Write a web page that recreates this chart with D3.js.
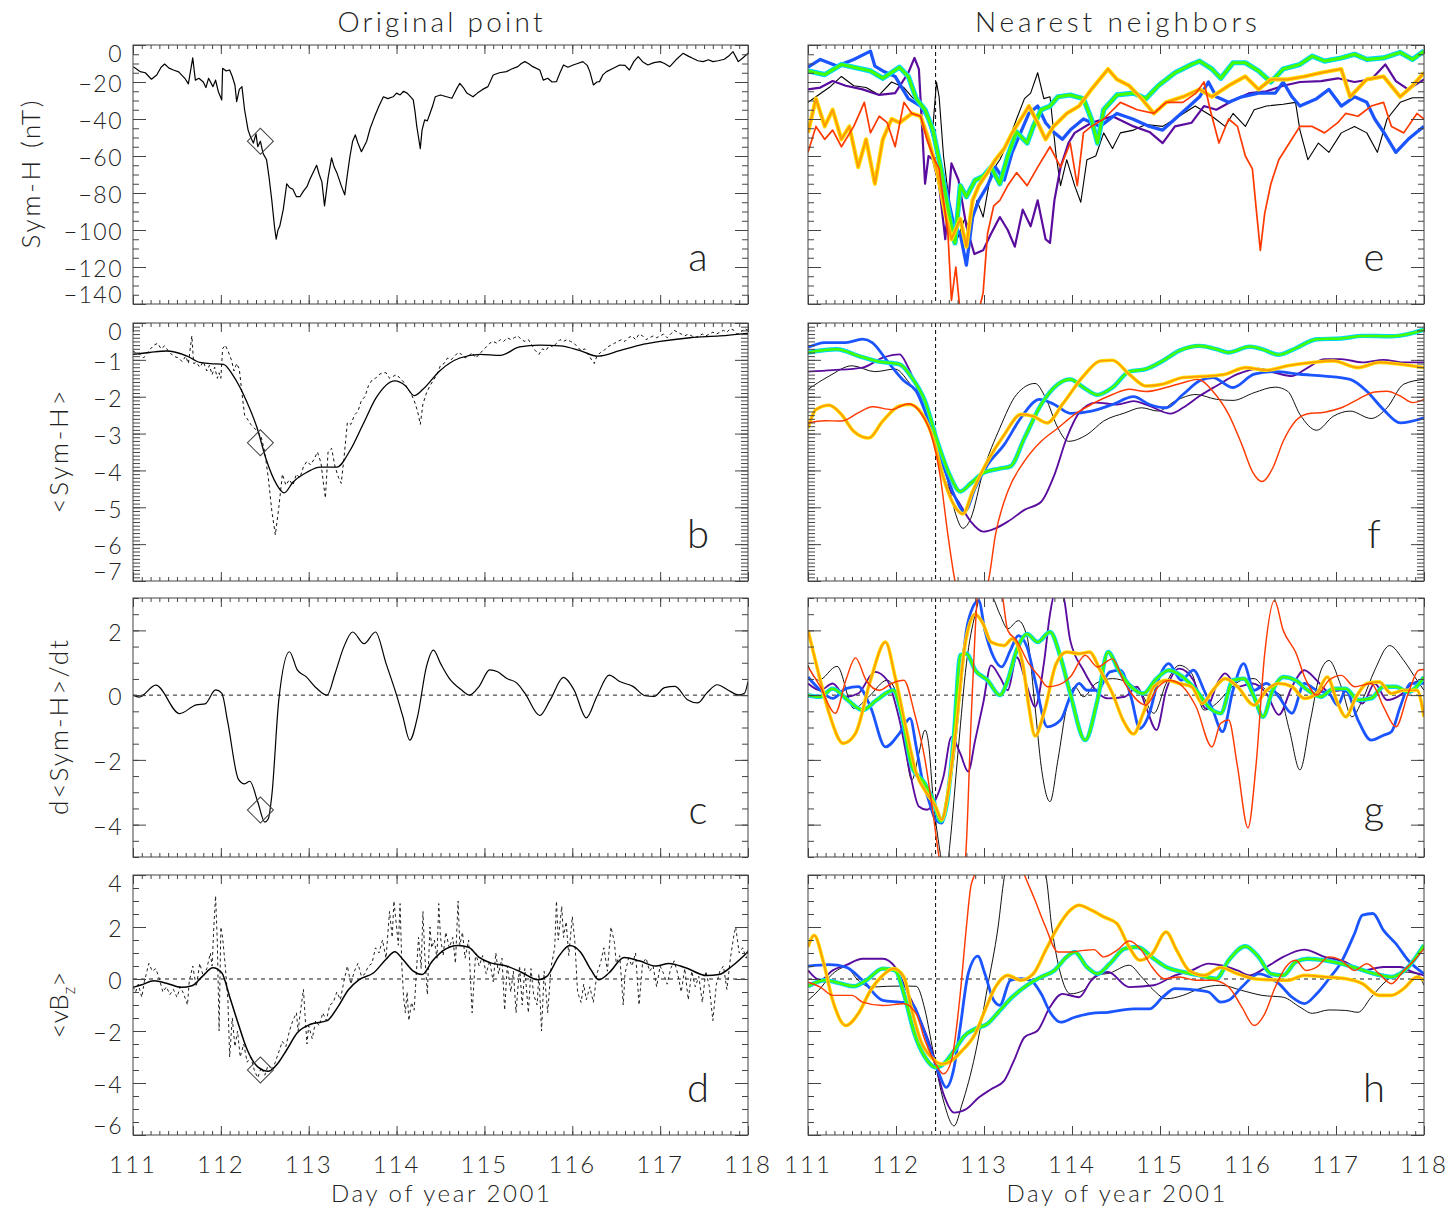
<!DOCTYPE html>
<html>
<head>
<meta charset="utf-8">
<script src="https://cdn.jsdelivr.net/npm/d3@7"></script>
<style>
  body { margin: 0; background: #fff; }
  svg text { font-family: Lato, "DejaVu Sans", sans-serif; font-weight: 300; fill: #222; }
</style>
</head>
<body>
<script>
// page size and panel boxes (IDL style 2x4 grid)
const svgWidth = 1453;
const svgHeight = 1212;
const cols = [{ x0: 133, x1: 748 }, { x0: 808, x1: 1424 }];
const rows = [{ y0: 45, y1: 304 }, { y0: 323, y1: 581 }, { y0: 598, y1: 857 }, { y0: 875, y1: 1135 }];

// tick labels
const dayTicks = [111, 112, 113, 114, 115, 116, 117, 118];
const symhTicks = [0, -20, -40, -60, -80, -100, -120, -140];
const meanSymhTicks = [0, -1, -2, -3, -4, -5, -6, -7];
const dSymhTicks = [2, 0, -2, -4];
const vbzTicks = [4, 2, 0, -2, -4, -6];

// the original point (day of year), marked with a diamond / dashed line
const pointDay = 112.45;
const pointValues = [-52, -3.25, -3.55, -3.5];

// ---------- left column: original point ----------
const symhOrig = [[111.00,-11.7],[111.04,-13],[111.08,-14.4],[111.14,-15],[111.21,-18.5],[111.27,-16.2],[111.32,-12],[111.36,-10.3],[111.41,-12.5],[111.46,-13.5],[111.52,-14.5],[111.59,-18],[111.63,-21],[111.68,-7],[111.71,-19],[111.75,-18],[111.80,-20],[111.83,-23],[111.86,-18],[111.91,-22.5],[111.94,-19],[111.97,-25],[112.01,-29.7],[112.02,-12.6],[112.06,-14],[112.10,-13.5],[112.13,-17],[112.16,-21.6],[112.18,-30.6],[112.21,-24],[112.24,-22.5],[112.27,-35],[112.31,-46],[112.34,-50],[112.37,-53],[112.40,-48],[112.42,-55],[112.45,-52],[112.48,-58.6],[112.52,-62],[112.55,-72],[112.58,-84],[112.61,-98],[112.63,-105],[112.65,-100],[112.67,-98],[112.71,-89],[112.75,-75],[112.78,-77],[112.82,-78],[112.86,-82],[112.90,-82],[112.94,-79],[112.98,-76.6],[113.01,-73],[113.03,-71],[113.06,-68],[113.09,-65],[113.12,-70],[113.15,-74],[113.18,-87],[113.22,-72],[113.26,-61],[113.29,-66],[113.32,-69],[113.37,-76],[113.41,-81],[113.44,-70],[113.47,-60],[113.50,-52],[113.53,-48.6],[113.56,-53],[113.60,-57.7],[113.66,-52],[113.70,-45],[113.75,-38.7],[113.80,-33],[113.85,-28],[113.90,-29],[113.96,-28],[114.00,-26],[114.04,-27],[114.08,-25],[114.12,-26],[114.16,-28],[114.19,-29.7],[114.21,-36],[114.23,-44],[114.25,-50],[114.27,-56],[114.29,-46],[114.32,-40.5],[114.35,-41],[114.38,-37],[114.41,-33],[114.44,-28],[114.50,-27],[114.57,-28],[114.63,-28.8],[114.68,-24],[114.72,-20.7],[114.76,-23],[114.80,-26],[114.87,-28],[114.92,-26],[114.98,-24],[115.04,-22.5],[115.10,-16.2],[115.17,-15],[115.25,-14.4],[115.31,-13],[115.38,-11.7],[115.42,-10],[115.46,-9],[115.50,-10],[115.55,-11.7],[115.63,-13.5],[115.67,-19],[115.72,-18],[115.77,-20],[115.82,-19.8],[115.86,-15],[115.90,-10.8],[115.95,-12],[116.01,-10.8],[116.06,-10],[116.12,-9],[116.17,-11],[116.20,-14.4],[116.24,-21.6],[116.28,-20],[116.31,-19.8],[116.35,-16],[116.39,-14.4],[116.45,-13],[116.54,-10.8],[116.60,-11],[116.65,-13.5],[116.70,-9],[116.75,-6.3],[116.80,-9],[116.86,-10.8],[116.93,-9.5],[117.00,-9],[117.05,-10],[117.11,-11.7],[117.18,-8],[117.26,-4.5],[117.32,-6],[117.37,-7.2],[117.43,-8.5],[117.49,-9],[117.55,-8],[117.60,-9],[117.66,-8.5],[117.73,-7.7],[117.78,-6],[117.83,-3.6],[117.89,-9],[117.94,-7],[118.00,-4.5]];

const meanSymhSmooth = [[111.00,-0.85],[111.19,-0.80],[111.38,-0.76],[111.61,-0.89],[111.76,-1.07],[111.88,-1.10],[112.03,-1.12],[112.14,-1.43],[112.29,-2.11],[112.41,-2.83],[112.52,-3.73],[112.63,-4.36],[112.72,-4.61],[112.82,-4.32],[112.98,-4.05],[113.13,-3.91],[113.32,-3.91],[113.47,-3.46],[113.62,-2.74],[113.77,-2.02],[113.98,-1.57],[114.10,-1.70],[114.20,-1.97],[114.30,-1.80],[114.49,-1.30],[114.72,-0.95],[114.95,-0.85],[115.18,-0.88],[115.40,-0.65],[115.63,-0.60],[115.86,-0.62],[116.09,-0.75],[116.29,-0.90],[116.54,-0.75],[116.77,-0.60],[117.00,-0.50],[117.34,-0.40],[117.68,-0.35],[118.00,-0.28]];

const meanSymhRaw = [[111.00,-0.76],[111.04,-0.82],[111.08,-0.85],[111.12,-0.95],[111.16,-0.82],[111.20,-0.70],[111.24,-0.60],[111.28,-0.55],[111.32,-0.70],[111.36,-0.62],[111.40,-0.75],[111.46,-0.90],[111.52,-0.95],[111.56,-1.05],[111.60,-0.90],[111.63,-1.10],[111.67,-0.35],[111.69,-1.10],[111.72,-1.07],[111.76,-1.20],[111.80,-1.05],[111.84,-1.30],[111.87,-1.15],[111.90,-1.40],[111.93,-1.20],[111.96,-1.50],[111.98,-1.35],[112.00,-1.50],[112.02,-0.70],[112.05,-0.60],[112.08,-0.75],[112.12,-1.00],[112.15,-1.30],[112.18,-1.10],[112.21,-1.25],[112.24,-1.90],[112.27,-2.50],[112.30,-2.60],[112.34,-2.75],[112.38,-2.85],[112.42,-2.95],[112.46,-3.10],[112.50,-3.50],[112.54,-4.20],[112.58,-5.10],[112.62,-5.75],[112.66,-5.00],[112.70,-4.10],[112.74,-4.40],[112.78,-4.25],[112.82,-4.40],[112.86,-4.10],[112.90,-4.20],[112.94,-3.90],[112.98,-3.75],[113.02,-3.85],[113.06,-3.70],[113.10,-3.50],[113.14,-3.80],[113.17,-4.40],[113.19,-4.75],[113.22,-3.50],[113.26,-3.40],[113.30,-3.90],[113.34,-4.20],[113.37,-4.35],[113.40,-3.70],[113.44,-2.70],[113.48,-2.75],[113.52,-2.50],[113.56,-2.40],[113.60,-2.10],[113.64,-2.00],[113.68,-1.70],[113.72,-1.55],[113.76,-1.50],[113.80,-1.40],[113.84,-1.35],[113.88,-1.35],[113.92,-1.50],[113.96,-1.45],[114.00,-1.40],[114.04,-1.50],[114.08,-1.60],[114.12,-1.75],[114.16,-1.90],[114.20,-2.10],[114.24,-2.40],[114.27,-2.75],[114.30,-2.20],[114.34,-1.90],[114.38,-1.70],[114.42,-1.55],[114.46,-1.40],[114.50,-1.15],[114.54,-1.10],[114.58,-0.95],[114.62,-1.00],[114.66,-0.90],[114.70,-0.80],[114.74,-0.85],[114.78,-0.95],[114.82,-0.90],[114.86,-0.80],[114.90,-0.95],[114.94,-0.85],[114.98,-0.75],[115.02,-0.65],[115.06,-0.55],[115.10,-0.50],[115.14,-0.55],[115.18,-0.45],[115.22,-0.50],[115.26,-0.40],[115.30,-0.45],[115.34,-0.40],[115.38,-0.35],[115.42,-0.45],[115.46,-0.50],[115.50,-0.45],[115.54,-0.60],[115.58,-0.75],[115.62,-0.85],[115.66,-0.70],[115.70,-0.75],[115.74,-0.60],[115.78,-0.65],[115.82,-0.55],[115.86,-0.45],[115.90,-0.50],[115.94,-0.45],[115.98,-0.50],[116.02,-0.55],[116.06,-0.65],[116.10,-0.75],[116.14,-0.70],[116.18,-0.85],[116.22,-1.00],[116.25,-1.10],[116.28,-0.90],[116.32,-0.80],[116.36,-0.75],[116.40,-0.65],[116.44,-0.60],[116.48,-0.55],[116.52,-0.50],[116.56,-0.45],[116.60,-0.50],[116.64,-0.40],[116.68,-0.35],[116.72,-0.45],[116.76,-0.30],[116.80,-0.35],[116.84,-0.45],[116.88,-0.40],[116.92,-0.35],[116.96,-0.40],[117.00,-0.35],[117.04,-0.30],[117.08,-0.40],[117.12,-0.30],[117.16,-0.20],[117.20,-0.25],[117.24,-0.30],[117.28,-0.35],[117.32,-0.30],[117.36,-0.35],[117.40,-0.40],[117.44,-0.35],[117.48,-0.30],[117.52,-0.35],[117.56,-0.30],[117.60,-0.25],[117.64,-0.30],[117.68,-0.25],[117.72,-0.20],[117.76,-0.25],[117.80,-0.15],[117.84,-0.20],[117.88,-0.30],[117.92,-0.25],[117.96,-0.15],[118.00,-0.20]];

const dSymhOrig = [[111.00,0.00],[111.07,-0.06],[111.26,0.31],[111.53,-0.57],[111.72,-0.30],[111.82,-0.27],[111.94,0.16],[112.01,0.06],[112.08,-0.86],[112.20,-2.60],[112.27,-2.74],[112.33,-2.66],[112.42,-3.30],[112.50,-3.92],[112.54,-3.82],[112.58,-3.10],[112.66,-0.14],[112.78,1.34],[112.87,0.78],[112.97,0.57],[113.09,0.21],[113.21,0.00],[113.30,0.67],[113.40,1.49],[113.50,1.95],[113.63,1.59],[113.76,1.95],[113.88,0.98],[114.00,0.00],[114.07,-0.65],[114.15,-1.39],[114.24,-0.65],[114.34,0.88],[114.42,1.39],[114.50,0.98],[114.60,0.52],[114.74,0.16],[114.83,0.00],[114.94,0.27],[115.06,0.78],[115.15,0.72],[115.25,0.52],[115.37,0.37],[115.46,0.06],[115.63,-0.63],[115.75,-0.14],[115.90,0.55],[116.02,0.16],[116.16,-0.70],[116.28,-0.04],[116.42,0.62],[116.54,0.42],[116.69,0.27],[116.83,-0.02],[116.93,-0.04],[117.05,0.23],[117.17,0.27],[117.31,-0.14],[117.43,-0.24],[117.53,0.06],[117.65,0.32],[117.77,0.16],[117.89,0.01],[117.96,0.06],[118.00,0.42]];

const vbzSmooth = [[111.00,-0.32],[111.10,-0.22],[111.24,-0.07],[111.38,-0.16],[111.55,-0.32],[111.67,-0.26],[111.79,0.10],[111.91,0.43],[112.01,0.24],[112.10,-0.68],[112.20,-1.74],[112.30,-2.72],[112.42,-3.38],[112.54,-3.55],[112.63,-3.32],[112.75,-2.72],[112.87,-2.07],[113.02,-1.74],[113.21,-1.60],[113.33,-1.08],[113.45,-0.42],[113.57,-0.03],[113.74,0.24],[113.88,0.76],[113.98,1.05],[114.07,0.76],[114.19,0.30],[114.29,0.17],[114.41,0.70],[114.53,1.09],[114.70,1.29],[114.82,1.22],[114.94,0.83],[115.06,0.63],[115.25,0.50],[115.42,0.26],[115.61,-0.03],[115.71,0.10],[115.85,0.89],[115.97,1.29],[116.09,1.05],[116.21,0.37],[116.30,-0.03],[116.42,0.24],[116.59,0.83],[116.76,0.70],[116.95,0.50],[117.10,0.60],[117.29,0.43],[117.53,0.13],[117.67,0.17],[117.82,0.50],[118.00,1.05]];

const vbzRaw = [[111.00,-0.3],[111.03,-0.5],[111.06,-0.2],[111.10,-0.7],[111.13,-0.1],[111.18,0.6],[111.22,0.3],[111.26,0.4],[111.30,0],[111.34,-0.5],[111.38,-0.3],[111.42,-0.6],[111.46,-0.4],[111.50,-0.7],[111.54,-0.3],[111.58,-0.6],[111.62,-1.0],[111.64,-0.1],[111.68,0.5],[111.72,-0.3],[111.76,0.6],[111.80,0.1],[111.84,0.4],[111.88,1.0],[111.90,0.5],[111.92,2.0],[111.94,3.2],[111.96,1.4],[111.98,-2.0],[112.00,2.0],[112.02,1.6],[112.05,0.5],[112.08,-0.8],[112.10,-3.0],[112.13,-1.5],[112.16,-2.6],[112.19,-2.0],[112.22,-3.0],[112.26,-2.5],[112.30,-3.2],[112.34,-3.0],[112.38,-3.5],[112.42,-3.8],[112.46,-3.4],[112.50,-3.7],[112.54,-3.3],[112.58,-3.5],[112.62,-3.2],[112.66,-2.8],[112.70,-2.4],[112.74,-2.6],[112.78,-2.0],[112.82,-1.6],[112.86,-1.3],[112.88,-2.0],[112.90,-1.4],[112.94,-0.4],[112.96,-1.5],[112.98,-2.5],[113.00,-1.8],[113.04,-2.3],[113.08,-1.6],[113.12,-1.8],[113.16,-1.3],[113.20,-1.6],[113.24,-1.0],[113.28,-0.9],[113.32,-0.5],[113.36,-0.8],[113.40,-0.1],[113.44,0.5],[113.48,-0.2],[113.52,0.3],[113.56,0.6],[113.60,0.1],[113.64,0.2],[113.68,0.5],[113.72,0.6],[113.76,1.2],[113.80,1.0],[113.84,1.5],[113.88,0.8],[113.92,2.6],[113.95,1.6],[113.97,3.0],[114.00,2.0],[114.02,1.3],[114.04,2.9],[114.06,0.5],[114.08,-0.7],[114.10,-1.3],[114.12,-0.5],[114.14,-1.6],[114.17,-0.9],[114.20,-1.2],[114.23,0.5],[114.25,1.6],[114.28,0.4],[114.30,2.6],[114.32,1.0],[114.35,-0.6],[114.38,2.0],[114.40,1.2],[114.43,1.5],[114.46,0.8],[114.48,2.9],[114.50,1.6],[114.53,0.9],[114.56,1.8],[114.60,1.2],[114.64,1.6],[114.67,0.6],[114.70,3.0],[114.72,1.3],[114.75,1.8],[114.78,0.8],[114.82,1.5],[114.86,-1.3],[114.90,1.0],[114.94,0.5],[114.98,0.9],[115.02,0.2],[115.06,0.7],[115.10,-0.1],[115.13,1.0],[115.16,0.2],[115.20,0.8],[115.23,-1.2],[115.26,0.5],[115.30,-0.5],[115.33,0.3],[115.36,-1.3],[115.40,0.5],[115.43,-1.0],[115.46,0.4],[115.50,-1.3],[115.53,0.4],[115.56,-0.6],[115.60,-1.0],[115.62,0.2],[115.65,-2.0],[115.68,0.3],[115.72,-1.3],[115.76,0.5],[115.80,1.2],[115.82,3.0],[115.84,1.5],[115.88,2.8],[115.90,1.6],[115.93,2.2],[115.96,0.9],[116.00,2.4],[116.03,1.4],[116.06,-0.5],[116.10,-0.9],[116.13,-0.2],[116.16,-0.8],[116.20,-0.3],[116.24,-0.9],[116.28,0.2],[116.32,0.6],[116.36,1.2],[116.40,0.3],[116.44,2.0],[116.48,1.4],[116.50,0.6],[116.54,0.9],[116.58,-1.0],[116.60,0.2],[116.64,0.8],[116.68,0.5],[116.72,1.0],[116.76,-1.0],[116.80,0.6],[116.84,0.8],[116.88,0.3],[116.92,0.5],[116.96,-0.3],[117.00,0.5],[117.04,0.2],[117.08,-0.2],[117.12,0.4],[117.16,0.7],[117.20,0.2],[117.24,-0.5],[117.28,0.4],[117.32,-0.8],[117.36,0.3],[117.40,-0.3],[117.44,0.1],[117.48,-0.9],[117.52,0.3],[117.56,-0.3],[117.60,-1.6],[117.64,-0.2],[117.68,0.3],[117.72,0.5],[117.76,-0.4],[117.80,0.8],[117.84,1.7],[117.86,2.0],[117.90,1.0],[117.94,1.2],[117.98,0.8],[118.00,1.2]];

// ---------- right column: nearest neighbours ----------
// panel e: Sym-H
const symhBlack = [[111.00,-31],[111.09,-28],[111.24,-23],[111.38,-17],[111.52,-22],[111.66,-23],[111.81,-27],[111.95,-20],[112.09,-23],[112.18,-28],[112.33,-35],[112.42,-44],[112.46,-20],[112.49,-28],[112.54,-60],[112.61,-87],[112.68,-107],[112.78,-94],[112.85,-100],[112.92,-84],[112.99,-93],[113.08,-69],[113.18,-62],[113.27,-53],[113.37,-40],[113.46,-29],[113.53,-26],[113.61,-15],[113.68,-29],[113.75,-28],[113.82,-60],[113.87,-76],[113.94,-62],[114.03,-76],[114.10,-85],[114.17,-62],[114.27,-60],[114.36,-47.5],[114.46,-56],[114.55,-47.5],[114.70,-46],[114.84,-43],[115.03,-44],[115.17,-40],[115.40,-33],[115.59,-38.5],[115.74,-44],[115.83,-37],[115.97,-44],[116.07,-35],[116.21,-33],[116.40,-32],[116.54,-31],[116.59,-46],[116.68,-62],[116.80,-53],[116.92,-58],[117.06,-47.5],[117.21,-44],[117.35,-47.5],[117.47,-58],[117.58,-40],[117.73,-31],[117.87,-28.5],[118.00,-28.5]];
const symhPurple = [[111.00,-24],[111.14,-23],[111.28,-19.5],[111.43,-22],[111.62,-24],[111.81,-27],[111.99,-26],[112.14,-15],[112.21,-7],[112.26,-13],[112.30,-47.5],[112.33,-75],[112.37,-60],[112.42,-62],[112.49,-76],[112.56,-105],[112.63,-64],[112.71,-73],[112.80,-98],[112.89,-113],[112.99,-111],[113.08,-102],[113.18,-93],[113.27,-100],[113.35,-109],[113.44,-89],[113.53,-98],[113.61,-84],[113.70,-105],[113.75,-107],[113.80,-84],[113.87,-66],[113.96,-53],[114.03,-47.5],[114.22,-42],[114.46,-38.5],[114.70,-44],[114.88,-47],[115.03,-53],[115.17,-44],[115.36,-42],[115.50,-33],[115.64,-35],[115.83,-30],[116.02,-26],[116.21,-25],[116.40,-22],[116.59,-20],[116.83,-19.5],[117.02,-18],[117.21,-20],[117.40,-18.6],[117.56,-10.5],[117.68,-19.5],[117.82,-24],[118.00,-18.6]];
const symhBlue = [[111.00,-12],[111.14,-7.8],[111.33,-11.4],[111.52,-7.8],[111.71,-3.3],[111.76,-11.4],[111.85,-14],[111.99,-17],[112.14,-29],[112.28,-33],[112.37,-40],[112.47,-57],[112.56,-76],[112.66,-98],[112.73,-102],[112.80,-119],[112.87,-93],[112.94,-84],[113.04,-76],[113.13,-66],[113.23,-73],[113.32,-58],[113.42,-47],[113.51,-37],[113.61,-33],[113.70,-42],[113.79,-47],[113.89,-51],[113.98,-46],[114.13,-40],[114.32,-44],[114.51,-37],[114.69,-40],[114.88,-44],[115.03,-46],[115.17,-40],[115.31,-34],[115.45,-28],[115.55,-20],[115.64,-28],[115.78,-31],[115.93,-28],[116.12,-26],[116.31,-26],[116.40,-20],[116.50,-28],[116.59,-33],[116.78,-29],[116.92,-24],[117.06,-33],[117.21,-28],[117.35,-31],[117.44,-40],[117.54,-47],[117.68,-58],[117.82,-51],[117.92,-47],[118.00,-44]];
const symhGreen = [[111.00,-14],[111.19,-16],[111.38,-10.5],[111.52,-12],[111.71,-14],[111.85,-18],[112.04,-12],[112.14,-17],[112.23,-29],[112.33,-35],[112.42,-46],[112.52,-69],[112.61,-93],[112.67,-107],[112.73,-76],[112.80,-82],[112.90,-73],[112.99,-71],[113.08,-66],[113.18,-75],[113.27,-60],[113.37,-47],[113.49,-53],[113.56,-44],[113.65,-35],[113.75,-33],[113.84,-28],[113.98,-27],[114.13,-29],[114.22,-40],[114.29,-53],[114.36,-35],[114.51,-27],[114.70,-26],[114.84,-29],[114.98,-22],[115.17,-15],[115.36,-10.5],[115.45,-8.7],[115.59,-13],[115.69,-18],[115.83,-9.6],[115.97,-9.6],[116.12,-14],[116.26,-20],[116.40,-13],[116.59,-10.5],[116.73,-6],[116.87,-8.7],[117.06,-7],[117.21,-5],[117.35,-7.8],[117.54,-7],[117.73,-4],[117.87,-7.8],[118.00,-3.3]];
const symhOrange = [[111.00,-47.5],[111.09,-29],[111.19,-44],[111.28,-35],[111.38,-51],[111.47,-44],[111.57,-66],[111.66,-51],[111.76,-75],[111.85,-51],[111.95,-40],[112.04,-42],[112.18,-37],[112.28,-38.5],[112.37,-51],[112.47,-69],[112.56,-91],[112.63,-105],[112.73,-94],[112.80,-109],[112.87,-84],[112.94,-76],[113.04,-69],[113.13,-62],[113.23,-56],[113.32,-47.5],[113.42,-40],[113.51,-33],[113.61,-42],[113.70,-51],[113.79,-44],[113.94,-37],[114.08,-33],[114.22,-24],[114.41,-13],[114.51,-18.6],[114.65,-22],[114.79,-29],[114.93,-37],[115.07,-31],[115.26,-28],[115.45,-24],[115.59,-28],[115.78,-22],[115.97,-17],[116.12,-24],[116.26,-18.6],[116.45,-18.6],[116.64,-17],[116.83,-15],[117.06,-13],[117.16,-28],[117.35,-18.6],[117.54,-17],[117.73,-28],[117.87,-22],[118.00,-15]];
const symhRed = [[111.00,-58],[111.09,-44],[111.19,-51],[111.28,-46],[111.38,-55],[111.52,-44],[111.64,-31],[111.71,-47.5],[111.81,-38.5],[111.90,-42],[111.99,-55],[112.09,-31],[112.18,-37],[112.28,-38.5],[112.35,-51],[112.42,-60],[112.49,-67],[112.54,-84],[112.59,-102],[112.63,-138],[112.68,-120],[112.73,-145],[112.80,-150],[112.92,-148],[112.99,-134],[113.04,-102],[113.11,-87],[113.18,-84],[113.27,-76],[113.37,-69],[113.49,-76],[113.61,-66],[113.75,-55],[113.87,-66],[113.98,-53],[114.06,-76],[114.13,-47.5],[114.22,-44],[114.36,-40],[114.55,-31],[114.74,-35],[114.93,-37],[115.07,-31],[115.26,-31],[115.41,-26],[115.50,-20],[115.57,-35],[115.67,-53],[115.78,-40],[115.88,-44],[115.97,-60],[116.05,-67],[116.09,-87],[116.14,-111],[116.19,-91],[116.26,-75],[116.35,-62],[116.47,-53],[116.59,-44],[116.73,-44],[116.87,-47.5],[117.02,-42],[117.11,-37],[117.25,-38.5],[117.40,-33],[117.54,-31],[117.63,-44],[117.77,-47.5],[117.92,-37],[118.00,-40]];

// panel f: <Sym-H>
const meanBlack = [[111.00,-1.80],[111.24,-1.44],[111.50,-1.16],[111.76,-1.32],[111.99,-1.25],[112.18,-1.71],[112.33,-2.12],[112.47,-3.21],[112.59,-4.30],[112.68,-5.20],[112.76,-5.57],[112.85,-5.30],[112.99,-4.03],[113.18,-2.85],[113.37,-1.94],[113.58,-1.64],[113.70,-2.03],[113.84,-2.85],[113.96,-3.21],[114.17,-3.03],[114.36,-2.66],[114.60,-2.44],[114.79,-2.30],[114.98,-2.39],[115.17,-2.12],[115.41,-1.94],[115.64,-2.07],[115.83,-2.10],[116.07,-1.89],[116.31,-1.74],[116.45,-1.85],[116.59,-2.48],[116.78,-2.91],[116.97,-2.53],[117.16,-2.39],[117.40,-2.59],[117.58,-2.30],[117.77,-1.66],[118.00,-1.53]];
const meanPurple = [[111.00,-1.32],[111.28,-1.28],[111.62,-1.21],[111.85,-0.94],[112.04,-0.85],[112.14,-1.21],[112.28,-2.03],[112.42,-3.03],[112.56,-4.30],[112.71,-4.85],[112.85,-5.39],[112.99,-5.66],[113.13,-5.57],[113.27,-5.39],[113.46,-5.07],[113.65,-4.85],[113.80,-4.12],[113.94,-3.12],[114.08,-2.44],[114.27,-2.16],[114.51,-2.21],[114.70,-2.12],[114.88,-2.25],[115.12,-2.46],[115.26,-2.30],[115.45,-1.98],[115.64,-1.71],[115.88,-1.39],[116.12,-1.24],[116.31,-1.35],[116.50,-1.44],[116.68,-1.21],[116.87,-0.98],[117.06,-0.98],[117.30,-1.07],[117.54,-1.00],[117.77,-1.07],[118.00,-1.07]];
const meanBlue = [[111.00,-0.66],[111.19,-0.53],[111.43,-0.53],[111.62,-0.44],[111.73,-0.53],[111.90,-1.03],[112.09,-1.57],[112.23,-1.85],[112.37,-2.66],[112.52,-3.75],[112.66,-4.66],[112.78,-5.12],[112.90,-4.48],[113.04,-3.85],[113.23,-3.30],[113.42,-2.57],[113.63,-2.07],[113.80,-2.21],[113.98,-2.45],[114.22,-2.39],[114.46,-2.21],[114.70,-2.00],[114.88,-2.21],[115.07,-2.30],[115.26,-1.94],[115.45,-1.57],[115.60,-1.48],[115.83,-1.75],[116.07,-1.39],[116.31,-1.32],[116.59,-1.39],[116.87,-1.44],[117.16,-1.53],[117.35,-1.85],[117.54,-2.35],[117.73,-2.71],[118.00,-2.57]];
const meanGreen = [[111.00,-0.80],[111.33,-0.71],[111.57,-0.89],[111.81,-1.05],[112.04,-1.12],[112.18,-1.48],[112.33,-2.12],[112.47,-3.21],[112.61,-4.12],[112.73,-4.57],[112.85,-4.35],[112.99,-4.07],[113.18,-3.95],[113.30,-3.89],[113.46,-3.12],[113.65,-2.21],[113.84,-1.66],[113.98,-1.53],[114.13,-1.75],[114.29,-1.95],[114.46,-1.75],[114.65,-1.32],[114.84,-1.25],[115.03,-1.03],[115.22,-0.75],[115.45,-0.62],[115.64,-0.71],[115.78,-0.80],[116.02,-0.64],[116.16,-0.71],[116.35,-0.86],[116.54,-0.69],[116.78,-0.44],[117.06,-0.42],[117.30,-0.35],[117.63,-0.36],[117.82,-0.30],[118.00,-0.18]];
const meanOrange = [[111.00,-2.85],[111.09,-2.35],[111.24,-2.23],[111.38,-2.48],[111.52,-2.94],[111.69,-3.12],[111.85,-2.66],[112.04,-2.25],[112.16,-2.21],[112.30,-2.48],[112.42,-3.12],[112.54,-4.21],[112.66,-4.94],[112.76,-5.18],[112.87,-4.57],[113.04,-3.75],[113.23,-3.03],[113.42,-2.48],[113.56,-2.53],[113.72,-2.71],[113.89,-2.21],[114.13,-1.44],[114.32,-1.03],[114.46,-1.01],[114.65,-1.39],[114.84,-1.71],[115.03,-1.66],[115.26,-1.48],[115.55,-1.44],[115.74,-1.39],[115.97,-1.21],[116.21,-1.28],[116.45,-1.16],[116.73,-1.07],[116.97,-1.03],[117.25,-1.21],[117.49,-1.07],[117.73,-1.12],[118.00,-1.21]];
const meanRed = [[111.00,-2.71],[111.19,-2.65],[111.38,-2.66],[111.57,-2.44],[111.73,-2.27],[111.95,-2.35],[112.14,-2.19],[112.28,-2.44],[112.40,-3.03],[112.50,-4.12],[112.59,-5.75],[112.67,-7.00],[112.76,-7.80],[112.90,-8.00],[113.01,-7.30],[113.05,-7.00],[113.13,-5.75],[113.27,-4.57],[113.46,-3.75],[113.65,-3.21],[113.84,-2.85],[114.03,-2.48],[114.22,-2.21],[114.46,-1.94],[114.65,-1.80],[114.84,-1.86],[115.07,-1.75],[115.26,-1.62],[115.43,-1.53],[115.60,-1.85],[115.78,-2.48],[115.93,-3.30],[116.05,-4.03],[116.16,-4.30],[116.28,-3.94],[116.40,-3.21],[116.54,-2.66],[116.68,-2.46],[116.87,-2.42],[117.06,-2.30],[117.25,-2.07],[117.44,-1.87],[117.58,-1.85],[117.73,-1.98],[117.87,-2.16],[118.00,-2.07]];

// panel g: d<Sym-H>/dt
const dsymBlack = [[111.00,0.92],[111.12,0.46],[111.33,0.89],[111.52,-0.41],[111.69,-0.05],[111.90,0.46],[112.04,-0.26],[112.18,-2.62],[112.26,-1.80],[112.33,-1.08],[112.37,-1.49],[112.42,-3.13],[112.48,-4.47],[112.54,-5.40],[112.57,-5.60],[112.61,-4.67],[112.71,-1.60],[112.80,0.97],[112.90,2.50],[112.99,3.20],[113.08,3.10],[113.18,2.50],[113.27,2.05],[113.39,2.30],[113.49,1.79],[113.58,-0.36],[113.65,-2.20],[113.75,-3.29],[113.84,-2.00],[113.94,-0.36],[114.03,0.26],[114.13,-0.05],[114.27,0.36],[114.46,0.51],[114.65,0.36],[114.79,0.05],[114.93,-0.56],[115.07,0.36],[115.22,0.92],[115.36,0.67],[115.50,-0.46],[115.64,-0.26],[115.78,0.15],[115.93,0.46],[116.07,0.51],[116.21,0.15],[116.35,0.05],[116.47,-1.08],[116.59,-2.31],[116.71,-0.77],[116.83,0.77],[116.92,1.07],[117.06,0.26],[117.18,-0.67],[117.30,-0.15],[117.44,0.77],[117.61,1.53],[117.77,1.07],[117.92,0.46],[118.00,0.15]];
const dsymPurple = [[111.00,0.36],[111.14,0.15],[111.28,0.36],[111.43,-0.05],[111.57,0.05],[111.76,0.72],[111.90,0.46],[112.04,-0.77],[112.16,-2.41],[112.26,-3.44],[112.35,-3.54],[112.45,-3.23],[112.54,-2.51],[112.63,-1.29],[112.73,-1.80],[112.82,-2.36],[112.90,-1.39],[112.99,-0.26],[113.08,0.92],[113.18,0.56],[113.27,0.15],[113.37,1.17],[113.49,0.26],[113.58,-0.36],[113.68,0.97],[113.75,2.50],[113.80,3.10],[113.89,3.10],[113.98,1.69],[114.13,0.77],[114.27,0.15],[114.41,-0.10],[114.60,-0.05],[114.74,0.26],[114.84,-0.36],[114.96,-1.08],[115.07,0.15],[115.22,0.82],[115.38,0.46],[115.52,-0.41],[115.67,0.46],[115.74,0.67],[115.88,0.26],[116.05,0.36],[116.21,0.05],[116.35,-0.61],[116.50,0.26],[116.64,0.77],[116.78,0.46],[116.92,0.10],[117.06,0.15],[117.21,-0.05],[117.30,-0.26],[117.44,0.36],[117.58,-0.15],[117.73,0.00],[117.87,0.36],[118.00,0.46]];
const dsymBlue = [[111.00,0.56],[111.14,0.15],[111.28,-0.10],[111.43,0.20],[111.57,0.26],[111.71,-0.36],[111.88,-1.60],[112.04,-1.18],[112.16,-0.72],[112.23,-1.60],[112.30,-2.62],[112.37,-3.23],[112.45,-3.85],[112.52,-3.95],[112.59,-3.03],[112.66,-1.70],[112.73,0.26],[112.80,2.00],[112.87,2.70],[112.94,2.92],[113.01,2.00],[113.11,1.17],[113.20,0.87],[113.30,1.38],[113.39,1.84],[113.49,1.48],[113.58,0.46],[113.72,-0.98],[113.87,-0.77],[113.98,-0.05],[114.08,0.36],[114.17,0.15],[114.29,0.15],[114.43,0.72],[114.55,0.77],[114.67,-0.05],[114.77,-1.03],[114.88,-0.56],[114.98,0.46],[115.10,0.97],[115.24,0.46],[115.38,0.77],[115.50,0.15],[115.60,-0.46],[115.71,-1.13],[115.83,0.15],[115.95,0.97],[116.07,0.15],[116.21,0.36],[116.35,-0.05],[116.50,-0.56],[116.64,0.36],[116.78,0.15],[116.92,0.05],[117.02,-0.31],[117.11,0.15],[117.25,-0.77],[117.40,-1.39],[117.54,-1.24],[117.63,-1.13],[117.73,-0.36],[117.85,0.36],[118.00,0.36]];
const dsymGreen = [[111.00,0.00],[111.14,-0.05],[111.28,0.20],[111.45,-0.15],[111.62,-0.46],[111.78,-0.15],[111.97,0.15],[112.07,-0.67],[112.18,-2.20],[112.33,-2.74],[112.42,-3.23],[112.51,-3.90],[112.59,-3.13],[112.66,-1.18],[112.73,1.23],[112.80,1.28],[112.90,0.77],[113.04,0.46],[113.18,0.00],[113.27,0.46],[113.37,1.38],[113.49,1.89],[113.61,1.64],[113.75,1.95],[113.87,1.17],[113.98,0.05],[114.15,-1.39],[114.29,-0.15],[114.41,1.33],[114.53,0.77],[114.67,0.26],[114.81,0.05],[114.96,0.51],[115.10,0.77],[115.26,0.56],[115.41,0.15],[115.57,-0.41],[115.69,-0.56],[115.83,0.46],[115.95,0.51],[116.07,-0.05],[116.17,-0.67],[116.28,0.15],[116.40,0.56],[116.54,0.46],[116.68,0.15],[116.83,-0.05],[116.97,0.20],[117.11,0.20],[117.25,-0.15],[117.40,-0.10],[117.54,0.26],[117.68,0.26],[117.82,0.10],[118.00,0.56]];
const dsymOrange = [[111.00,2.00],[111.12,0.67],[111.24,-0.56],[111.40,-1.49],[111.54,-1.18],[111.71,0.46],[111.88,1.64],[111.99,0.56],[112.11,-0.98],[112.23,-2.41],[112.35,-3.03],[112.45,-3.44],[112.52,-3.85],[112.59,-3.03],[112.68,-1.08],[112.78,1.48],[112.90,2.50],[112.99,2.20],[113.08,1.64],[113.23,1.53],[113.32,1.74],[113.44,0.97],[113.51,-0.36],[113.58,-1.26],[113.68,-0.56],[113.82,0.97],[113.94,1.33],[114.08,1.28],[114.20,1.33],[114.32,0.77],[114.46,0.05],[114.58,-0.77],[114.70,-1.20],[114.81,-0.56],[114.93,0.26],[115.07,0.46],[115.22,0.36],[115.36,0.26],[115.48,-0.26],[115.60,0.15],[115.74,0.51],[115.88,0.26],[116.07,-0.31],[116.21,0.15],[116.35,0.36],[116.50,0.26],[116.64,-0.10],[116.78,0.05],[116.90,0.56],[117.02,-0.26],[117.11,-0.67],[117.23,-0.05],[117.35,0.36],[117.49,0.41],[117.63,0.05],[117.77,0.15],[117.92,0.15],[118.00,-0.67]];
const dsymRed = [[111.00,0.87],[111.14,0.26],[111.31,-0.56],[111.43,0.46],[111.54,1.15],[111.66,0.46],[111.81,0.15],[111.95,0.36],[112.09,0.46],[112.21,-0.56],[112.33,-2.00],[112.42,-3.64],[112.50,-5.20],[112.59,-6.30],[112.70,-6.20],[112.79,-5.00],[112.85,-1.00],[112.90,2.00],[112.94,3.50],[113.04,4.00],[113.20,3.20],[113.27,2.00],[113.37,1.69],[113.51,0.97],[113.63,0.56],[113.72,0.26],[113.84,0.31],[113.98,0.56],[114.15,1.23],[114.29,0.87],[114.46,1.12],[114.60,0.36],[114.84,-0.31],[114.98,0.26],[115.12,0.46],[115.26,0.26],[115.41,-0.36],[115.59,-1.60],[115.69,-0.87],[115.78,-0.77],[115.88,-2.20],[116.00,-4.10],[116.09,-2.20],[116.19,1.28],[116.30,2.92],[116.40,2.00],[116.54,1.33],[116.66,0.46],[116.78,0.00],[116.92,0.46],[117.06,0.61],[117.21,0.26],[117.40,0.36],[117.54,-0.36],[117.68,-0.98],[117.82,0.05],[117.94,0.77],[118.00,0.79]];

// panel h: <vBz>
const vbzBlack = [[111.00,-0.82],[111.12,-0.44],[111.28,0.20],[111.43,0.46],[111.57,-0.05],[111.71,-0.31],[111.90,-0.28],[112.09,-0.27],[112.23,-0.28],[112.33,-1.20],[112.42,-2.76],[112.54,-4.69],[112.66,-5.65],[112.75,-4.82],[112.90,-2.89],[113.04,-0.31],[113.16,2.00],[113.23,3.90],[113.30,4.80],[113.55,4.80],[113.70,4.00],[113.77,2.00],[113.87,0.20],[113.98,-0.57],[114.13,-0.44],[114.27,0.14],[114.43,0.23],[114.65,0.53],[114.79,0.08],[114.93,-0.44],[115.07,-0.76],[115.26,-0.63],[115.45,-0.37],[115.69,-0.24],[115.93,-0.44],[116.16,-0.63],[116.40,-0.70],[116.59,-1.08],[116.73,-1.32],[116.92,-1.19],[117.11,-1.21],[117.25,-1.28],[117.40,-0.70],[117.58,-0.05],[117.77,0.27],[117.92,0.20],[118.00,-0.24]];
const vbzPurple = [[111.00,0.33],[111.14,-0.05],[111.28,0.33],[111.43,0.53],[111.62,0.78],[111.85,0.78],[111.99,0.46],[112.14,-0.57],[112.28,-1.60],[112.42,-2.89],[112.54,-4.43],[112.66,-5.14],[112.80,-5.00],[112.94,-4.56],[113.08,-4.24],[113.23,-3.91],[113.34,-3.14],[113.46,-2.24],[113.61,-1.98],[113.75,-1.08],[113.89,-0.57],[114.08,-0.70],[114.22,-0.05],[114.41,0.27],[114.65,-0.31],[114.93,-0.24],[115.17,0.14],[115.36,0.33],[115.55,0.59],[115.69,0.53],[115.88,0.33],[116.02,0.14],[116.21,0.46],[116.40,0.85],[116.64,1.13],[116.87,0.85],[117.11,0.65],[117.30,0.33],[117.54,0.46],[117.73,0.46],[117.87,0.27],[118.00,0.14]];
const vbzBlue = [[111.00,0.49],[111.24,0.55],[111.43,0.46],[111.62,-0.05],[111.85,-0.82],[112.04,-0.89],[112.18,-0.95],[112.30,-1.85],[112.42,-3.01],[112.49,-3.65],[112.57,-4.17],[112.66,-3.40],[112.73,-1.85],[112.82,0.20],[112.93,0.88],[113.01,0.20],[113.11,-0.82],[113.18,-1.01],[113.30,-0.05],[113.42,0.01],[113.53,-0.05],[113.65,-0.57],[113.75,-1.27],[113.87,-1.66],[114.03,-1.47],[114.22,-1.32],[114.41,-1.28],[114.70,-1.15],[114.88,-1.15],[115.03,-0.70],[115.17,-0.37],[115.36,-0.41],[115.55,-0.50],[115.69,-0.89],[115.78,-0.82],[115.93,-0.31],[116.12,0.20],[116.35,-0.18],[116.50,-0.70],[116.64,-0.95],[116.78,-0.57],[116.92,0.01],[117.06,0.65],[117.21,1.74],[117.30,2.46],[117.42,2.52],[117.54,1.87],[117.68,1.36],[117.82,0.72],[118.00,0.20]];
const vbzGreen = [[111.00,-0.28],[111.19,-0.05],[111.38,-0.18],[111.52,-0.28],[111.66,-0.05],[111.85,0.40],[111.99,0.33],[112.09,-0.57],[112.21,-2.11],[112.33,-3.01],[112.45,-3.40],[112.54,-3.27],[112.66,-2.76],[112.78,-2.18],[112.90,-1.92],[113.04,-1.72],[113.18,-1.21],[113.32,-0.70],[113.49,-0.24],[113.65,0.08],[113.80,0.33],[113.94,0.85],[114.03,1.04],[114.17,0.46],[114.29,0.20],[114.43,0.59],[114.60,1.17],[114.74,1.23],[114.93,0.78],[115.07,0.46],[115.26,0.27],[115.45,0.14],[115.64,0.01],[115.78,0.72],[115.97,1.26],[116.12,0.85],[116.26,0.20],[116.40,0.14],[116.54,0.65],[116.68,0.78],[116.87,0.72],[117.06,0.59],[117.25,0.40],[117.44,0.20],[117.63,0.08],[117.82,0.46],[118.00,1.30]];
const vbzOrange = [[111.00,1.23],[111.07,1.68],[111.17,0.72],[111.28,-0.82],[111.43,-1.79],[111.57,-1.34],[111.71,-0.44],[111.85,0.14],[111.97,0.40],[112.09,0.08],[112.18,-1.21],[112.28,-2.37],[112.40,-3.01],[112.52,-3.27],[112.63,-3.14],[112.75,-2.76],[112.90,-2.11],[113.01,-1.21],[113.13,-0.31],[113.27,0.14],[113.42,-0.05],[113.56,0.20],[113.70,1.10],[113.84,2.00],[113.98,2.65],[114.08,2.84],[114.22,2.65],[114.36,2.39],[114.51,2.13],[114.65,1.23],[114.77,0.72],[114.91,0.97],[115.07,1.81],[115.19,1.10],[115.33,0.33],[115.50,0.14],[115.69,0.44],[115.88,0.20],[116.07,0.01],[116.26,-0.03],[116.45,-0.05],[116.64,0.14],[116.87,0.08],[117.11,0.01],[117.30,-0.18],[117.49,-0.63],[117.63,-0.63],[117.77,-0.37],[117.92,0.08],[118.00,-0.05]];
const vbzRed = [[111.00,-0.12],[111.14,-0.31],[111.28,-0.63],[111.50,-0.63],[111.62,-0.89],[111.85,-1.02],[112.09,-0.95],[112.23,-1.34],[112.33,-2.37],[112.45,-3.27],[112.54,-3.65],[112.63,-3.14],[112.73,-0.57],[112.80,2.00],[112.85,3.55],[112.89,4.00],[112.94,4.80],[113.37,4.80],[113.46,4.00],[113.58,3.03],[113.70,2.00],[113.84,1.04],[113.98,1.04],[114.13,1.10],[114.25,1.13],[114.36,0.85],[114.51,1.10],[114.65,1.46],[114.79,1.10],[114.91,0.46],[115.05,0.01],[115.22,0.08],[115.41,-0.05],[115.60,-0.05],[115.78,-0.31],[115.93,-1.08],[116.07,-1.79],[116.19,-1.34],[116.31,-0.31],[116.43,0.46],[116.54,0.72],[116.66,0.33],[116.78,0.46],[116.92,0.85],[117.06,0.72],[117.21,0.33],[117.35,0.59],[117.49,0.20],[117.63,-0.18],[117.77,0.33],[117.89,0.72],[118.00,1.17]];

// neighbour colours (rainbow table); cyan is drawn under green, yellow under orange
const neighborStyles = [
    { color: "#000000", width: 1.1 },
    { color: "#5a0c9e", width: 2.2 },
    { color: "#1b55ff", width: 3.3 },
    { color: "#00d4ff", width: 5.2 },
    { color: "#44ff00", width: 3.0 },
    { color: "#ffe000", width: 4.2 },
    { color: "#ff9a00", width: 2.0 },
    { color: "#ff3a00", width: 1.7 }
];

const panelRows = [
    { domain: [-140, 0], ticks: symhTicks, minor: 5, minorLen: 6, letters: ["a", "e"],
      neighbors: [symhBlack, symhPurple, symhBlue, symhGreen, symhGreen, symhOrange, symhOrange, symhRed] },
    { domain: [-7, 0], ticks: meanSymhTicks, minor: 0.1, minorLen: 7, letters: ["b", "f"],
      neighbors: [meanBlack, meanPurple, meanBlue, meanGreen, meanGreen, meanOrange, meanOrange, meanRed] },
    { domain: [-5, 3], ticks: dSymhTicks, minor: 0.5, minorLen: 6, letters: ["c", "g"], zero: true,
      neighbors: [dsymBlack, dsymPurple, dsymBlue, dsymGreen, dsymGreen, dsymOrange, dsymOrange, dsymRed] },
    { domain: [-6, 4], ticks: vbzTicks, minor: 0.5, minorLen: 6, letters: ["d", "h"], zero: true,
      neighbors: [vbzBlack, vbzPurple, vbzBlue, vbzGreen, vbzGreen, vbzOrange, vbzOrange, vbzRed] }
];

const svg = d3.select("body")
    .append("svg")
    .attr("width", svgWidth)
    .attr("height", svgHeight);

const defs = svg.append("defs");
const axisColor = "#444";

function minorValues(domain, step) {
    const n = Math.round((domain[1] - domain[0]) / step);
    return d3.range(n + 1).map(i => +(domain[0] + i * step).toFixed(4));
}

function drawLine(g, data, x, y, color, width, dash, smooth) {
    const line = d3.line()
        .x(d => x(d[0]))
        .y(d => y(d[1]))
        .curve(smooth ? d3.curveMonotoneX : d3.curveLinear);
    g.append("path")
        .datum(data)
        .attr("d", line)
        .attr("fill", "none")
        .attr("stroke", color)
        .attr("stroke-width", width)
        .attr("stroke-linejoin", "round")
        .attr("stroke-dasharray", dash || null);
}

panelRows.forEach(function (spec, r) {
    cols.forEach(function (col, c) {
        const x = d3.scaleLinear().domain([111, 118]).range([col.x0, col.x1]);
        const y = d3.scaleLinear().domain(spec.domain).range([rows[r].y1, rows[r].y0]);
        const clipId = `clip-${r}-${c}`;
        defs.append("clipPath").attr("id", clipId)
            .append("rect")
            .attr("x", col.x0).attr("y", rows[r].y0)
            .attr("width", col.x1 - col.x0).attr("height", rows[r].y1 - rows[r].y0);

        const panel = svg.append("g");
        const plot = panel.append("g").attr("clip-path", `url(#${clipId})`);

        // dashed zero line and marker line
        if (spec.zero) {
            plot.append("line")
                .attr("x1", col.x0).attr("x2", col.x1)
                .attr("y1", y(0)).attr("y2", y(0))
                .attr("stroke", r === 3 ? "#666" : "#222")
                .attr("stroke-width", r === 3 ? 1.6 : 1)
                .attr("stroke-dasharray", "4,4");
        }
        if (c === 1) {
            plot.append("line")
                .attr("x1", x(pointDay)).attr("x2", x(pointDay))
                .attr("y1", rows[r].y0).attr("y2", rows[r].y1)
                .attr("stroke", "#000").attr("stroke-width", 1)
                .attr("stroke-dasharray", "4,3");
        }

        if (c === 0) {
            if (r === 0) drawLine(plot, symhOrig, x, y, "#000", 1.2, null, false);
            if (r === 1) {
                drawLine(plot, meanSymhRaw, x, y, "#111", 1, "3,3", false);
                drawLine(plot, meanSymhSmooth, x, y, "#000", 1.3, null, true);
            }
            if (r === 2) drawLine(plot, dSymhOrig, x, y, "#000", 1.2, null, true);
            if (r === 3) {
                drawLine(plot, vbzRaw, x, y, "#222", 1, "3,3", false);
                drawLine(plot, vbzSmooth, x, y, "#000", 1.5, null, true);
            }
            // diamond at the original point
            plot.append("path")
                .attr("d", d3.symbol().type(d3.symbolSquare).size(338)())
                .attr("transform", `translate(${x(pointDay)},${y(pointValues[r])}) rotate(45)`)
                .attr("fill", "none")
                .attr("stroke", "#444")
                .attr("stroke-width", 1);
        } else {
            const scaleW = r === 0 ? 1 : 0.85;
            spec.neighbors.forEach(function (data, i) {
                const st = neighborStyles[i];
                drawLine(plot, data, x, y, st.color, st.width * scaleW, null, r !== 0);
            });
        }

        // ticks on all four sides, pointing inward
        const xMinor = minorValues([111, 118], 0.1);
        const yMinor = minorValues(spec.domain, spec.minor);
        const addAxis = function (axis, tx, ty) {
            const a = panel.append("g")
                .attr("transform", `translate(${tx},${ty})`)
                .call(axis.tickFormat("").tickSizeOuter(0));
            a.select(".domain").remove();
            a.selectAll("line").attr("stroke", axisColor);
        };
        addAxis(d3.axisTop(x).tickValues(xMinor).tickSize(4), 0, rows[r].y1);
        addAxis(d3.axisTop(x).tickValues(dayTicks).tickSize(9), 0, rows[r].y1);
        addAxis(d3.axisBottom(x).tickValues(xMinor).tickSize(4), 0, rows[r].y0);
        addAxis(d3.axisBottom(x).tickValues(dayTicks).tickSize(9), 0, rows[r].y0);
        addAxis(d3.axisRight(y).tickValues(yMinor).tickSize(spec.minorLen), col.x0, 0);
        addAxis(d3.axisRight(y).tickValues(spec.ticks).tickSize(13), col.x0, 0);
        addAxis(d3.axisLeft(y).tickValues(yMinor).tickSize(spec.minorLen), col.x1, 0);
        addAxis(d3.axisLeft(y).tickValues(spec.ticks).tickSize(13), col.x1, 0);

        panel.append("rect")
            .attr("x", col.x0).attr("y", rows[r].y0)
            .attr("width", col.x1 - col.x0).attr("height", rows[r].y1 - rows[r].y0)
            .attr("fill", "none").attr("stroke", axisColor).attr("stroke-width", 1);

        // y tick labels on the left column only
        if (c === 0) {
            spec.ticks.forEach(function (v) {
                let shift = 2;
                if (v === spec.domain[1]) shift = 9;
                if (v === spec.domain[0]) shift = -9;
                panel.append("text")
                    .text(v < 0 ? "\u2212" + Math.abs(v) : String(v))
                    .attr("x", col.x0 - 10)
                    .attr("y", y(v) + shift)
                    .attr("dy", "0.36em")
                    .attr("text-anchor", "end")
                    .attr("font-size", 23)
                    .attr("letter-spacing", 1.5);
            });
        }
        // day labels below the bottom row
        if (r === 3) {
            dayTicks.forEach(function (v) {
                panel.append("text")
                    .text(v)
                    .attr("x", x(v))
                    .attr("y", 1173)
                    .attr("text-anchor", "middle")
                    .attr("font-size", 24)
                    .attr("letter-spacing", 2);
            });
            panel.append("text")
                .text("Day of year 2001")
                .attr("x", (col.x0 + col.x1) / 2)
                .attr("y", 1202)
                .attr("text-anchor", "middle")
                .attr("font-size", 24)
                .attr("textLength", 219)
                .attr("lengthAdjust", "spacing");
        }
        // panel letter
        panel.append("text")
            .text(spec.letters[c])
            .attr("x", col.x1 - 50)
            .attr("y", rows[r].y1 - 33)
            .attr("text-anchor", "middle")
            .attr("font-size", 40);
    });
});

// column titles
svg.append("text")
    .text("Original point")
    .attr("x", 440).attr("y", 32)
    .attr("text-anchor", "middle")
    .attr("font-size", 28)
    .attr("textLength", 205).attr("lengthAdjust", "spacing");
svg.append("text")
    .text("Nearest neighbors")
    .attr("x", 1116).attr("y", 32)
    .attr("text-anchor", "middle")
    .attr("font-size", 28)
    .attr("textLength", 282).attr("lengthAdjust", "spacing");

// y axis titles
const yTitles = [
    { text: "Sym-H (nT)", x: 40, len: 148 },
    { text: "<Sym-H>", x: 68, len: 123 },
    { text: "d<Sym-H>/dt", x: 68, len: 175 }
];
yTitles.forEach(function (t, i) {
    const cy = (rows[i].y0 + rows[i].y1) / 2;
    svg.append("text")
        .text(t.text)
        .attr("transform", `translate(${t.x},${cy}) rotate(-90)`)
        .attr("text-anchor", "middle")
        .attr("font-size", 26)
        .attr("textLength", t.len).attr("lengthAdjust", "spacing");
});
const vbzTitle = svg.append("text")
    .attr("transform", `translate(68,${(rows[3].y0 + rows[3].y1) / 2}) rotate(-90)`)
    .attr("text-anchor", "middle")
    .attr("font-size", 26);
vbzTitle.append("tspan").text("<vB");
vbzTitle.append("tspan").text("z").attr("font-size", 17).attr("dy", 7);
vbzTitle.append("tspan").text(">").attr("dy", -7);
</script>
</body>
</html>
